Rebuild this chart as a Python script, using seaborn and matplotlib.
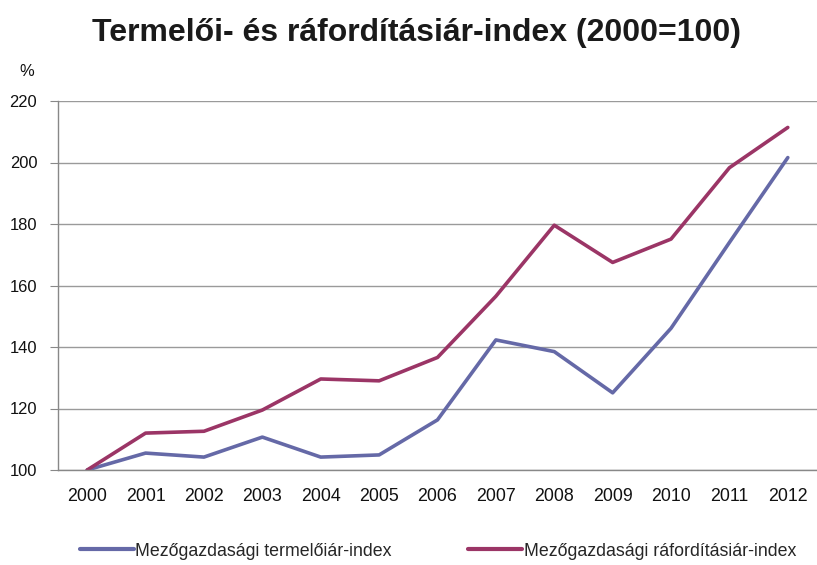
import matplotlib
matplotlib.use("Agg")
import matplotlib.pyplot as plt
from matplotlib import font_manager
import seaborn as sns
import pandas as pd
import numpy as np

years = ["2000", "2001", "2002", "2003", "2004", "2005", "2006",
         "2007", "2008", "2009", "2010", "2011", "2012"]
termeloi = [100, 105.5, 104.2, 110.7, 104.2, 104.9, 116.3,
            142.3, 138.5, 125.1, 146.1, 174.0, 201.6]
raforditasi = [100, 112.0, 112.6, 119.5, 129.6, 129.0, 136.6,
               156.5, 179.6, 167.5, 175.1, 198.3, 211.4]
series_names = ["Mezőgazdasági termelőiár-index",
                "Mezőgazdasági ráfordításiár-index"]
colors = ["#6569a7", "#9b3566"]

sns.set_theme(style="white")
plt.rcParams["font.family"] = ["Liberation Sans", "DejaVu Sans"]

avail = {f.name for f in font_manager.fontManager.ttflist}
narrow = "Liberation Sans Narrow" if "Liberation Sans Narrow" in avail else "Liberation Sans"
scale = 1.0 if narrow == "Liberation Sans Narrow" else 0.85
narrow_fam = [narrow, "DejaVu Sans"]

df = pd.DataFrame({
    "pos": list(range(len(years))) * 2,
    "value": termeloi + raforditasi,
    "series": [series_names[0]] * len(years) + [series_names[1]] * len(years),
})

fig = plt.figure(figsize=(8.17, 5.65), dpi=100)
ax = fig.add_axes([58 / 817, 95 / 565, 759 / 817, 369 / 565])

sns.lineplot(data=df, x="pos", y="value", hue="series", palette=colors,
             linewidth=2.6, ax=ax, legend=False)

ax.set_xlim(-0.5, len(years) - 0.5)
ax.set_ylim(100, 220)
ax.set_yticks([100, 120, 140, 160, 180, 200, 220])
ax.set_xticks(range(len(years)))
ax.set_xticklabels(years)
ax.set_xticks(np.arange(-0.5, len(years), 1.0), minor=True)
ax.tick_params(axis="x", which="major", length=0, pad=13, colors="#111111")
ax.tick_params(axis="x", which="minor", length=6, width=0.8, color="#888888", direction="out")
ax.tick_params(axis="y", which="major", length=6, width=0.8, color="#888888",
               direction="out", pad=9, labelcolor="#111111", left=True)
for lab in ax.get_xticklabels():
    lab.set_family(narrow_fam)
    lab.set_fontsize(15 * scale)
for lab in ax.get_yticklabels():
    lab.set_family(narrow_fam)
    lab.set_fontsize(14 * scale)
ax.set_xlabel("")
ax.set_ylabel("")
ax.yaxis.grid(True, color="#9a9a9a", linewidth=1.0)
ax.xaxis.grid(False)
for s in ["top", "right"]:
    ax.spines[s].set_visible(False)
for s in ["left", "bottom"]:
    ax.spines[s].set_visible(True)
    ax.spines[s].set_color("#888888")
    ax.spines[s].set_linewidth(1.0)

fig.text(417 / 817, 1 - 33 / 565, "Termelői- és ráfordításiár-index (2000=100)",
         ha="center", va="center", fontsize=23, fontweight="bold", color="#1a1a1a")
fig.text(27 / 817, 1 - 72 / 565, "%", ha="center", va="center",
         fontsize=14 * scale, family=narrow_fam, color="#111111")

handles = [plt.Line2D([], [], color=c, linewidth=3) for c in colors]
fig.legend(handles, series_names, loc="center", bbox_to_anchor=(438 / 817, 1 - 551 / 565),
           ncol=2, frameon=False, prop={"family": narrow_fam, "size": 15 * scale},
           handlelength=3.05, handletextpad=0.1, columnspacing=4.3, borderaxespad=0)

fig.savefig("out.png", dpi=100)
